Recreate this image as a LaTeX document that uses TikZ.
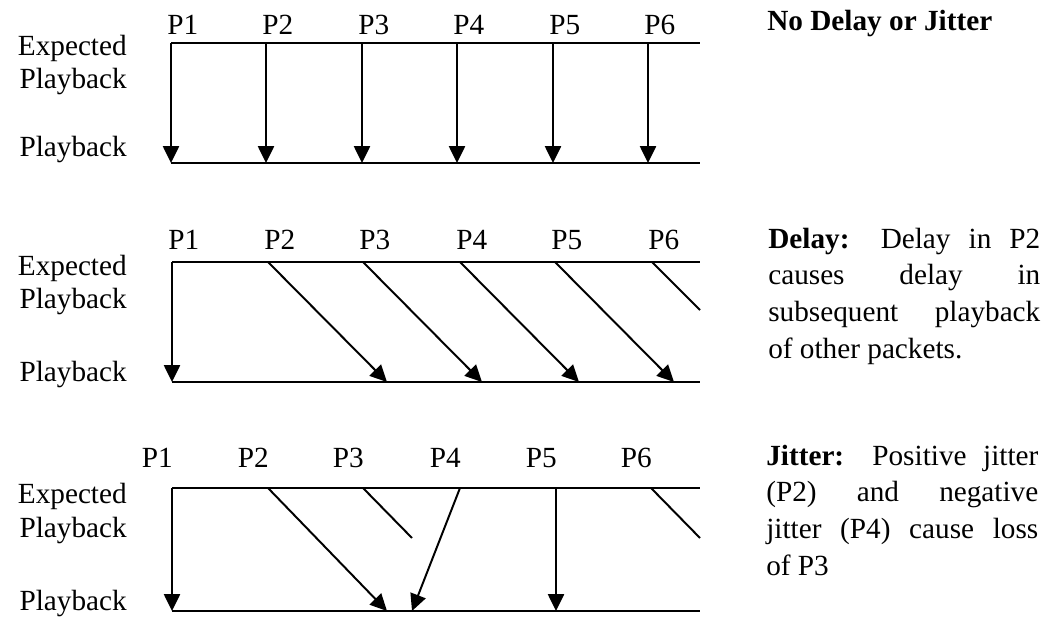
\documentclass[tikz,border=0pt]{standalone}
\usepackage{fontspec}
\setmainfont{Liberation Serif}
\usetikzlibrary{arrows.meta}
\begin{document}
\begin{tikzpicture}[x=0.025cm,y=-0.025cm,
  txt/.style={inner sep=0pt,font=\fontsize{20.8}{23.5}\selectfont},
  para/.style={inner sep=0pt,anchor=base west,align=left,font=\fontsize{20.8}{26}\selectfont},
  axis/.style={line width=1.4pt},
  cut/.style={line width=1.4pt},
  pkt/.style={line width=1.4pt,-{Triangle[length=0.42cm,width=0.4cm]}}]
\useasboundingbox (0,0) rectangle (1048,617);

% no delay or jitter
\node[txt,anchor=base east,align=right] (exp1) at (127,89) {Expected\\Playback};
\node[txt,anchor=base east] (ply1) at (127,157) {Playback};
\draw[axis] (171,43) -- (700,43);
\draw[axis] (171,163) -- (700,163);
\foreach \x [count=\i] in {171,266,362,457,553,648}{
  \coordinate (a\i) at (\x,43);
  \coordinate (b\i) at (\x,163);
  \node[txt,anchor=base west] (pa\i) at (\x-4,35) {P\i};
  \draw[pkt] (a\i) -- (b\i);
}
\node[txt,anchor=base west] (nodj) at (767,31) {\textbf{No Delay or Jitter}};

% delay
\node[txt,anchor=base east,align=right] (exp2) at (127,309) {Expected\\Playback};
\node[txt,anchor=base east] (ply2) at (127,382) {Playback};
\draw[axis] (172,262) -- (700,262);
\draw[axis] (172,382) -- (700,382);
\foreach \x [count=\i] in {172,268,363,460,555,652}
  \node[txt,anchor=base west] (pb\i) at (\x-4,250) {P\i};
\coordinate (c1) at (172,262);  \coordinate (d1) at (172,382);
\coordinate (c2) at (268,262);  \coordinate (d2) at (387,382);
\coordinate (c3) at (363,262);  \coordinate (d3) at (482,382);
\coordinate (c4) at (460,262);  \coordinate (d4) at (579,382);
\coordinate (c5) at (555,262);  \coordinate (d5) at (674,382);
\coordinate (c6) at (652,262);  \coordinate (d6) at (700,310);
\draw[pkt] (c1) -- (d1);
\draw[pkt] (c2) -- (d2);
\draw[pkt] (c3) -- (d3);
\draw[pkt] (c4) -- (d4);
\draw[pkt] (c5) -- (d5);
\draw[cut] (c6) -- (d6);
\node[para] (dly) at (768,358) {\makebox[6.8cm][s]{\textbf{Delay:} Delay in P2}\\
  \makebox[6.8cm][s]{causes delay in}\\
  \makebox[6.8cm][s]{subsequent playback}\\
  of other packets.};

% jitter
\node[txt,anchor=base east,align=right] (exp3) at (127,537) {Expected\\Playback};
\node[txt,anchor=base east] (ply3) at (127,610) {Playback};
\draw[axis] (172,488) -- (700,488);
\draw[axis] (172,611) -- (700,611);
\foreach \x [count=\i] in {172,268,363,460,556,651}
  \node[txt,anchor=base east] (pc\i) at (\x+1,467) {P\i};
\coordinate (e1) at (172,488);  \coordinate (f1) at (172,611);
\coordinate (e2) at (268,488);  \coordinate (f2) at (387,611);
\coordinate (e3) at (363,488);  \coordinate (f3) at (412,538);
\coordinate (e4) at (460,488);  \coordinate (f4) at (412,611);
\coordinate (e5) at (556,488);  \coordinate (f5) at (556,611);
\coordinate (e6) at (651,488);  \coordinate (f6) at (700,538);
\draw[pkt] (e1) -- (f1);
\draw[pkt] (e2) -- (f2);
\draw[cut] (e3) -- (f3);
\draw[pkt] (e4) -- (f4);
\draw[pkt] (e5) -- (f5);
\draw[cut] (e6) -- (f6);
\node[para] (jit) at (766,575) {\makebox[6.8cm][s]{\textbf{Jitter:} Positive jitter}\\
  \makebox[6.8cm][s]{(P2) and negative}\\
  \makebox[6.8cm][s]{jitter (P4) cause loss}\\
  of P3};

\end{tikzpicture}
\end{document}
